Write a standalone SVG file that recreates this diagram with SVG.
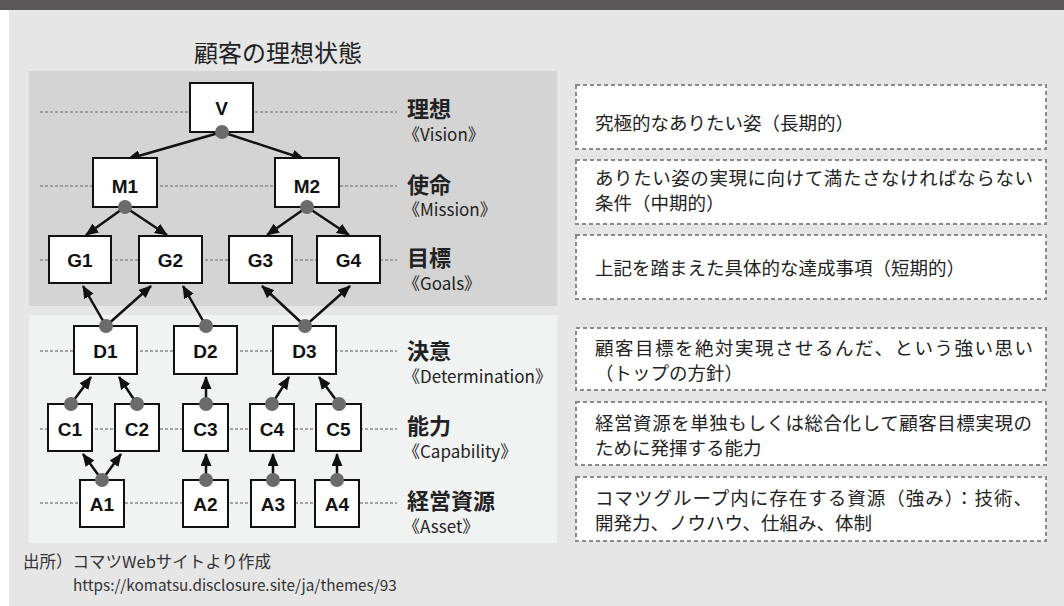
<svg xmlns="http://www.w3.org/2000/svg" width="1064" height="606" viewBox="0 0 1064 606">
<style>
.jp{font-family:"Noto Sans CJK JP","Noto Sans",sans-serif;fill:#222;}
.node rect{fill:#fff;stroke:#111;stroke-width:2;}
.node text{font-family:"Liberation Sans","Noto Sans",sans-serif;font-weight:bold;font-size:19px;fill:#111;text-anchor:middle;}
.dot{fill:#6b6b6b;}
.row{stroke:#8a8a8a;stroke-width:1.6;stroke-dasharray:3 2;fill:none;}
.conn line{stroke:#111;stroke-width:2.5;marker-end:url(#ah);}
.lvl{font-size:22px;font-weight:bold;}
.sub{font-size:17px;}
.desc rect{fill:#fff;stroke:#8a8a8a;stroke-width:2;stroke-dasharray:4 3;}
.desc text{font-size:18.5px;}
</style>
<defs>
<marker id="ah" markerUnits="userSpaceOnUse" markerWidth="13" markerHeight="11" refX="12" refY="5.5" orient="auto">
<path d="M0,0 L13,5.5 L0,11 Z" fill="#111"/>
</marker>
</defs>
<rect x="0" y="0" width="1064" height="606" fill="#fff"/>
<rect x="0" y="0" width="1064" height="10" fill="#595757"/>
<rect x="9" y="10" width="1055" height="596" fill="#e6e6e6"/>
<rect x="29" y="71" width="528" height="235" fill="#d4d4d4"/>
<rect x="29" y="315" width="528" height="228" fill="#f1f2f2"/>
<text class="jp" x="278" y="62" font-size="24" text-anchor="middle">顧客の理想状態</text>

<g id="rows">
<line class="row" x1="40" y1="112" x2="397" y2="112"/>
<line class="row" x1="40" y1="186" x2="397" y2="186"/>
<line class="row" x1="40" y1="260" x2="397" y2="260"/>
<line class="row" x1="40" y1="351" x2="397" y2="351"/>
<line class="row" x1="40" y1="429" x2="397" y2="429"/>
<line class="row" x1="40" y1="503" x2="397" y2="503"/>
</g>

<g id="connectors" class="conn">
<line x1="222" y1="132" x2="128" y2="159"/>
<line x1="222" y1="132" x2="304" y2="159"/>
<line x1="125" y1="207" x2="86" y2="235"/>
<line x1="125" y1="207" x2="167" y2="235"/>
<line x1="307" y1="207" x2="267" y2="235"/>
<line x1="307" y1="207" x2="349" y2="235"/>
<line x1="106" y1="326" x2="83" y2="286"/>
<line x1="106" y1="326" x2="151" y2="286"/>
<line x1="206" y1="326" x2="183" y2="286"/>
<line x1="305" y1="326" x2="262" y2="286"/>
<line x1="305" y1="326" x2="350" y2="286"/>
<line x1="71" y1="404" x2="91" y2="377"/>
<line x1="137" y1="404" x2="119" y2="377"/>
<line x1="206" y1="404" x2="206" y2="377"/>
<line x1="272" y1="404" x2="289" y2="377"/>
<line x1="339" y1="404" x2="319" y2="377"/>
<line x1="102" y1="480" x2="83" y2="454"/>
<line x1="102" y1="480" x2="121" y2="454"/>
<line x1="206" y1="480" x2="206" y2="454"/>
<line x1="273" y1="480" x2="273" y2="454"/>
<line x1="337" y1="480" x2="337" y2="454"/>
</g>

<g id="V" class="node"><rect x="190" y="83" width="63" height="49"/><text x="221.5" y="115">V</text><circle class="dot" cx="222" cy="132" r="7"/></g>
<g id="M1" class="node"><rect x="93" y="158" width="64" height="49"/><text x="125" y="193">M1</text><circle class="dot" cx="125" cy="207" r="7"/></g>
<g id="M2" class="node"><rect x="275" y="158" width="64" height="49"/><text x="307" y="193">M2</text><circle class="dot" cx="307" cy="207" r="7"/></g>
<g id="G1" class="node"><rect x="49" y="236" width="62" height="47"/><text x="80" y="267">G1</text></g>
<g id="G2" class="node"><rect x="139" y="236" width="63" height="47"/><text x="170.5" y="267">G2</text></g>
<g id="G3" class="node"><rect x="229" y="236" width="63" height="47"/><text x="260.5" y="267">G3</text></g>
<g id="G4" class="node"><rect x="317" y="236" width="63" height="47"/><text x="348.5" y="267">G4</text></g>
<g id="D1" class="node"><rect x="74" y="326" width="63" height="48"/><text x="105.5" y="358">D1</text><circle class="dot" cx="106" cy="326" r="7"/></g>
<g id="D2" class="node"><rect x="174" y="326" width="63" height="48"/><text x="205.5" y="358">D2</text><circle class="dot" cx="206" cy="326" r="7"/></g>
<g id="D3" class="node"><rect x="273" y="326" width="63" height="48"/><text x="304.5" y="358">D3</text><circle class="dot" cx="305" cy="326" r="7"/></g>
<g id="C1" class="node"><rect x="48" y="404" width="44" height="47"/><text x="70" y="436">C1</text><circle class="dot" cx="71" cy="404" r="7"/></g>
<g id="C2" class="node"><rect x="115" y="404" width="44" height="47"/><text x="137" y="436">C2</text><circle class="dot" cx="137" cy="404" r="7"/></g>
<g id="C3" class="node"><rect x="183" y="404" width="45" height="47"/><text x="205.5" y="436">C3</text><circle class="dot" cx="206" cy="404" r="7"/></g>
<g id="C4" class="node"><rect x="250" y="404" width="44" height="47"/><text x="272" y="436">C4</text><circle class="dot" cx="272" cy="404" r="7"/></g>
<g id="C5" class="node"><rect x="316" y="404" width="45" height="47"/><text x="338.5" y="436">C5</text><circle class="dot" cx="339" cy="404" r="7"/></g>
<g id="A1" class="node"><rect x="80" y="480" width="44" height="47"/><text x="102" y="511">A1</text><circle class="dot" cx="102" cy="480" r="7"/></g>
<g id="A2" class="node"><rect x="183" y="480" width="45" height="47"/><text x="205.5" y="511">A2</text><circle class="dot" cx="206" cy="480" r="7"/></g>
<g id="A3" class="node"><rect x="251" y="480" width="44" height="47"/><text x="273" y="511">A3</text><circle class="dot" cx="273" cy="480" r="7"/></g>
<g id="A4" class="node"><rect x="315" y="480" width="44" height="47"/><text x="337" y="511">A4</text><circle class="dot" cx="337" cy="480" r="7"/></g>

<g id="levels" class="jp">
<text class="lvl" x="407" y="117">理想</text><text class="sub" x="403" y="141">《Vision》</text>
<text class="lvl" x="407" y="193">使命</text><text class="sub" x="403" y="216">《Mission》</text>
<text class="lvl" x="407" y="266">目標</text><text class="sub" x="403" y="290">《Goals》</text>
<text class="lvl" x="407" y="359">決意</text><text class="sub" x="403" y="383">《Determination》</text>
<text class="lvl" x="407" y="434">能力</text><text class="sub" x="403" y="458">《Capability》</text>
<text class="lvl" x="407" y="509">経営資源</text><text class="sub" x="403" y="533">《Asset》</text>
</g>

<g id="desc1" class="desc jp"><rect x="576" y="85" width="470" height="64"/><text x="595" y="130">究極的なありたい姿（長期的）</text></g>
<g id="desc2" class="desc jp"><rect x="576" y="160" width="470" height="64"/><text x="595" y="185" textLength="438" lengthAdjust="spacing">ありたい姿の実現に向けて満たさなければならない</text><text x="595" y="210">条件（中期的）</text></g>
<g id="desc3" class="desc jp"><rect x="576" y="235" width="470" height="64"/><text x="595" y="275">上記を踏まえた具体的な達成事項（短期的）</text></g>
<g id="desc4" class="desc jp"><rect x="576" y="328" width="470" height="62"/><text x="595" y="355" textLength="438" lengthAdjust="spacing">顧客目標を絶対実現させるんだ、という強い思い</text><text x="595" y="380">（トップの方針）</text></g>
<g id="desc5" class="desc jp"><rect x="576" y="402" width="470" height="63"/><text x="595" y="430" textLength="437" lengthAdjust="spacing">経営資源を単独もしくは総合化して顧客目標実現の</text><text x="595" y="455">ために発揮する能力</text></g>
<g id="desc6" class="desc jp"><rect x="576" y="477" width="470" height="64"/><text x="595" y="505" textLength="437" lengthAdjust="spacing">コマツグループ内に存在する資源（強み）：技術、</text><text x="595" y="530">開発力、ノウハウ、仕組み、体制</text></g>

<g id="footer" class="jp">
<text x="23" y="568" font-size="16.5" fill="#333">出所）コマツWebサイトより作成</text>
<text x="73" y="591" font-size="15.3" fill="#333">https://komatsu.disclosure.site/ja/themes/93</text>
</g>
</svg>
